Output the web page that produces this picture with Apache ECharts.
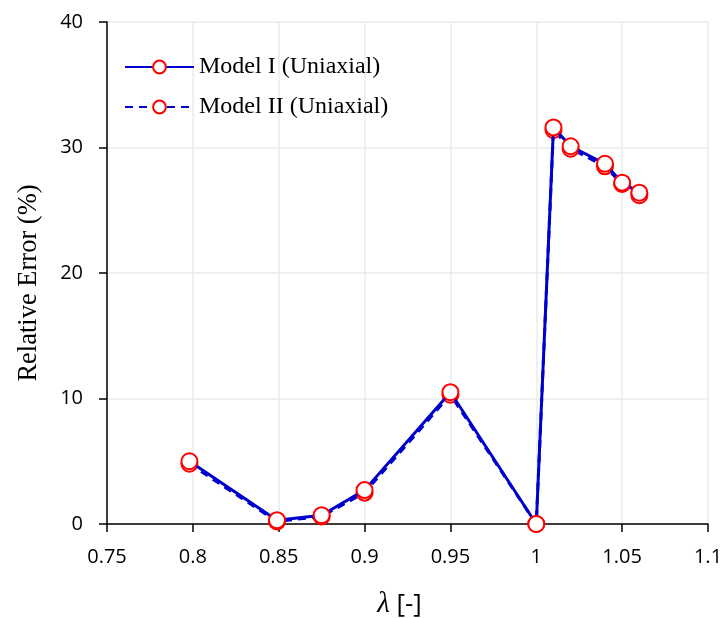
<!DOCTYPE html>
<html>
<head>
<meta charset="utf-8">
<script src="https://cdn.jsdelivr.net/npm/echarts@6/dist/echarts.min.js"></script>
<style>
  html, body { margin: 0; padding: 0; background: #fff; }
  #chart { width: 724px; height: 618px; }
</style>
</head>
<body>
<div id="chart"></div>
<script>
// Stretch ratio values (λ) and relative errors for both models
const lambdaValues = [0.798, 0.849, 0.875, 0.9, 0.95, 1.0, 1.01, 1.02, 1.04, 1.05, 1.06];
const modelIError  = [5.0, 0.3, 0.7, 2.7, 10.5, 0.0, 31.6, 30.1, 28.7, 27.2, 26.4];
const modelIIError = [4.8, 0.2, 0.6, 2.5, 10.3, 0.0, 31.4, 29.9, 28.5, 27.1, 26.2];
const xTickLabels = ['0.75', '0.8', '0.85', '0.9', '0.95', '1', '1.05', '1.1'];
const yTickLabels = ['0', '10', '20', '30', '40'];
const seriesNames = ['Model I (Uniaxial)', 'Model II (Uniaxial)'];

const pairs = (xs, ys) => xs.map((x, i) => [x, ys[i]]);

const tickFont = { fontFamily: 'Open Sans', fontSize: 20, color: '#000' };

const chart = echarts.init(document.getElementById('chart'), null, { renderer: 'canvas' });

const marker = {
  symbol: 'circle',
  symbolSize: 16,
  itemStyle: { color: '#fff', borderColor: '#ff0000', borderWidth: 2 }
};

chart.setOption({
  animation: false,
  backgroundColor: '#fff',
  grid: {
    left: 107, right: 16, top: 22, bottom: 94,
    containLabel: false,
    outerBoundsMode: 'none'
  },
  legend: {
    orient: 'vertical',
    left: 119,
    top: 50,
    itemWidth: 69,
    itemHeight: 16,
    itemGap: 16,
    textStyle: { fontFamily: 'Liberation Serif', fontSize: 24, color: '#000' },
    data: seriesNames
  },
  xAxis: {
    type: 'value',
    min: 0.75,
    max: 1.1,
    interval: 0.05,
    name: '{i|λ} [-]',
    nameLocation: 'middle',
    nameGap: 66,
    nameMoveOverlap: false,
    nameTextStyle: {
      fontFamily: 'Open Sans', fontSize: 26, color: '#000',
      padding: [0, 16, 0, 0],
      rich: { i: { fontFamily: 'Liberation Serif', fontStyle: 'italic', fontSize: 29, color: '#000' } }
    },
    axisLine: { show: true, onZero: false, lineStyle: { color: '#000', width: 1.5 } },
    axisTick: { show: true, inside: false, length: 8, lineStyle: { color: '#000', width: 1.5 } },
    axisLabel: {
      ...tickFont,
      margin: 23,
      formatter: (v) => xTickLabels[Math.round((v - 0.75) / 0.05)]
    },
    splitLine: { show: true, lineStyle: { color: '#ebebeb', width: 1.5 } }
  },
  yAxis: {
    type: 'value',
    min: 0,
    max: 40,
    interval: 10,
    name: 'Relative Error (%)',
    nameLocation: 'middle',
    nameGap: 64,
    nameMoveOverlap: false,
    nameTextStyle: {
      fontFamily: 'Liberation Serif', fontSize: 26.5, color: '#000',
      padding: [0, 20, 0, 0]
    },
    axisLine: { show: true, lineStyle: { color: '#000', width: 1.5 } },
    axisTick: { show: true, inside: false, length: 8, lineStyle: { color: '#000', width: 1.5 } },
    axisLabel: {
      ...tickFont,
      margin: 24,
      formatter: (v) => yTickLabels[Math.round(v / 10)]
    },
    splitLine: { show: true, lineStyle: { color: '#ebebeb', width: 1.5 } }
  },
  series: [
    {
      name: seriesNames[0],
      type: 'line',
      data: pairs(lambdaValues, modelIError),
      lineStyle: { color: '#0000cc', width: 3, type: 'solid' },
      ...marker,
      z: 3
    },
    {
      name: seriesNames[1],
      type: 'line',
      data: pairs(lambdaValues, modelIIError),
      lineStyle: { color: '#0000cc', width: 3, type: [8, 6] },
      ...marker,
      z: 2
    }
  ]
});
</script>
</body>
</html>
